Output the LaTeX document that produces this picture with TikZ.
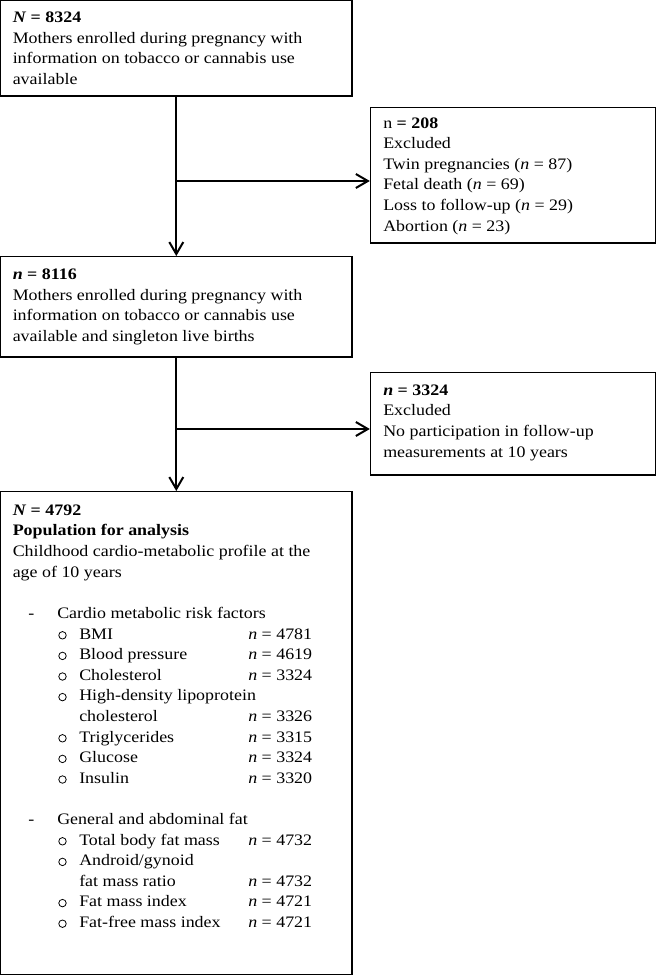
\documentclass[tikz,border=0pt]{standalone}
\usepackage{fontspec}
\setmainfont{Liberation Serif}[FakeStretch=1.12]
\usetikzlibrary{arrows.meta,fit}

\tikzset{
  caja/.style={draw, line width=1pt, inner sep=0pt},
  texto/.style={anchor=base west, inner sep=0pt, align=left, font=\fontsize{12}{15.4}\selectfont},
  flecha/.style={line width=1.5pt, -{Straight Barb[length=9pt,width=10.5pt]}},
  punto/.style={circle, draw, line width=0.6pt, inner sep=0pt, minimum size=5.6pt},
}

\begin{document}
\begin{tikzpicture}[x=0.75pt, y=-0.75pt]
    \useasboundingbox (0,0) rectangle (656,975);

    % Cajas
    \node[caja, fit={(0.6,0.6) (352,96)}] (box1) {};
    \node[caja, fit={(370.5,107.5) (655.3,243)}] (box2) {};
    \node[caja, fit={(0.6,256.7) (352,357)}] (box3) {};
    \node[caja, fit={(370.5,372.3) (655.3,475)}] (box4) {};
    \node[caja, fit={(0.6,491.7) (352,974.3)}] (box5) {};

    % Textos (anclados en la base de la ultima linea)
    \node[texto] (t1) at (12.5, 84.3) {\textbf{\textit{N} = 8324}\\
      Mothers enrolled during pregnancy with\\
      information on tobacco or cannabis use\\
      available};
    \node[texto] (t2) at (383, 231) {n \textbf{= 208}\\
      Excluded\\
      Twin pregnancies (\textit{n} = 87)\\
      Fetal death (\textit{n} = 69)\\
      Loss to follow-up (\textit{n} = 29)\\
      Abortion (\textit{n} = 23)};
    \node[texto] (t3) at (12.5, 341.5) {\textbf{\textit{n} = 8116}\\
      Mothers enrolled during pregnancy with\\
      information on tobacco or cannabis use\\
      available and singleton live births};
    \node[texto] (t4) at (383, 457) {\textbf{\textit{n} = 3324}\\
      Excluded\\
      No participation in follow-up\\
      measurements at 10 years};
    \node[texto] (t5) at (12.5, 577) {\textbf{\textit{N} = 4792}\\
      \textbf{Population for analysis}\\
      Childhood cardio-metabolic profile at the\\
      age of 10 years};

    % Grupos
    \foreach \i/\grupo in {5/Cardio metabolic risk factors, 15/General and abdominal fat} {
      \node[texto] (d\i) at (28, {515.5+20.6*\i}) {-};
      \node[texto] (g\i) at (57, {515.5+20.6*\i}) {\grupo};
    }

    % Variables
    \foreach \i/\var in {6/BMI, 7/Blood pressure, 8/Cholesterol, 9/High-density lipoprotein,
        10/cholesterol, 11/Triglycerides, 12/Glucose, 13/Insulin, 16/Total body fat mass,
        17/{Android/gynoid}, 18/fat mass ratio, 19/Fat mass index, 20/Fat-free mass index} {
      \node[texto] (v\i) at (79, {515.5+20.6*\i}) {\var};
    }

    % Puntos
    \foreach \i in {6,7,8,9,11,12,13,16,17,19,20} {
      \node[punto] (p\i) at (62.5, {515.5+20.6*\i-3.8}) {};
    }

    % Valores de n
    \foreach \i/\n in {6/4781, 7/4619, 8/3324, 10/3326, 11/3315, 12/3324, 13/3320,
        16/4732, 18/4732, 19/4721, 20/4721} {
      \node[texto] (n\i) at (248, {515.5+20.6*\i}) {\textit{n} = \n};
    }

    % Flechas
    \coordinate (r1) at (176.3, 181);
    \coordinate (r2) at (176.3, 429);
    \draw[flecha] (box1.south) -- (box3.north);
    \draw[flecha] (r1) -- (r1 -| box2.west);
    \draw[flecha] (box3.south) -- (box5.north);
    \draw[flecha] (r2) -- (r2 -| box4.west);

  \end{tikzpicture}
\end{document}
